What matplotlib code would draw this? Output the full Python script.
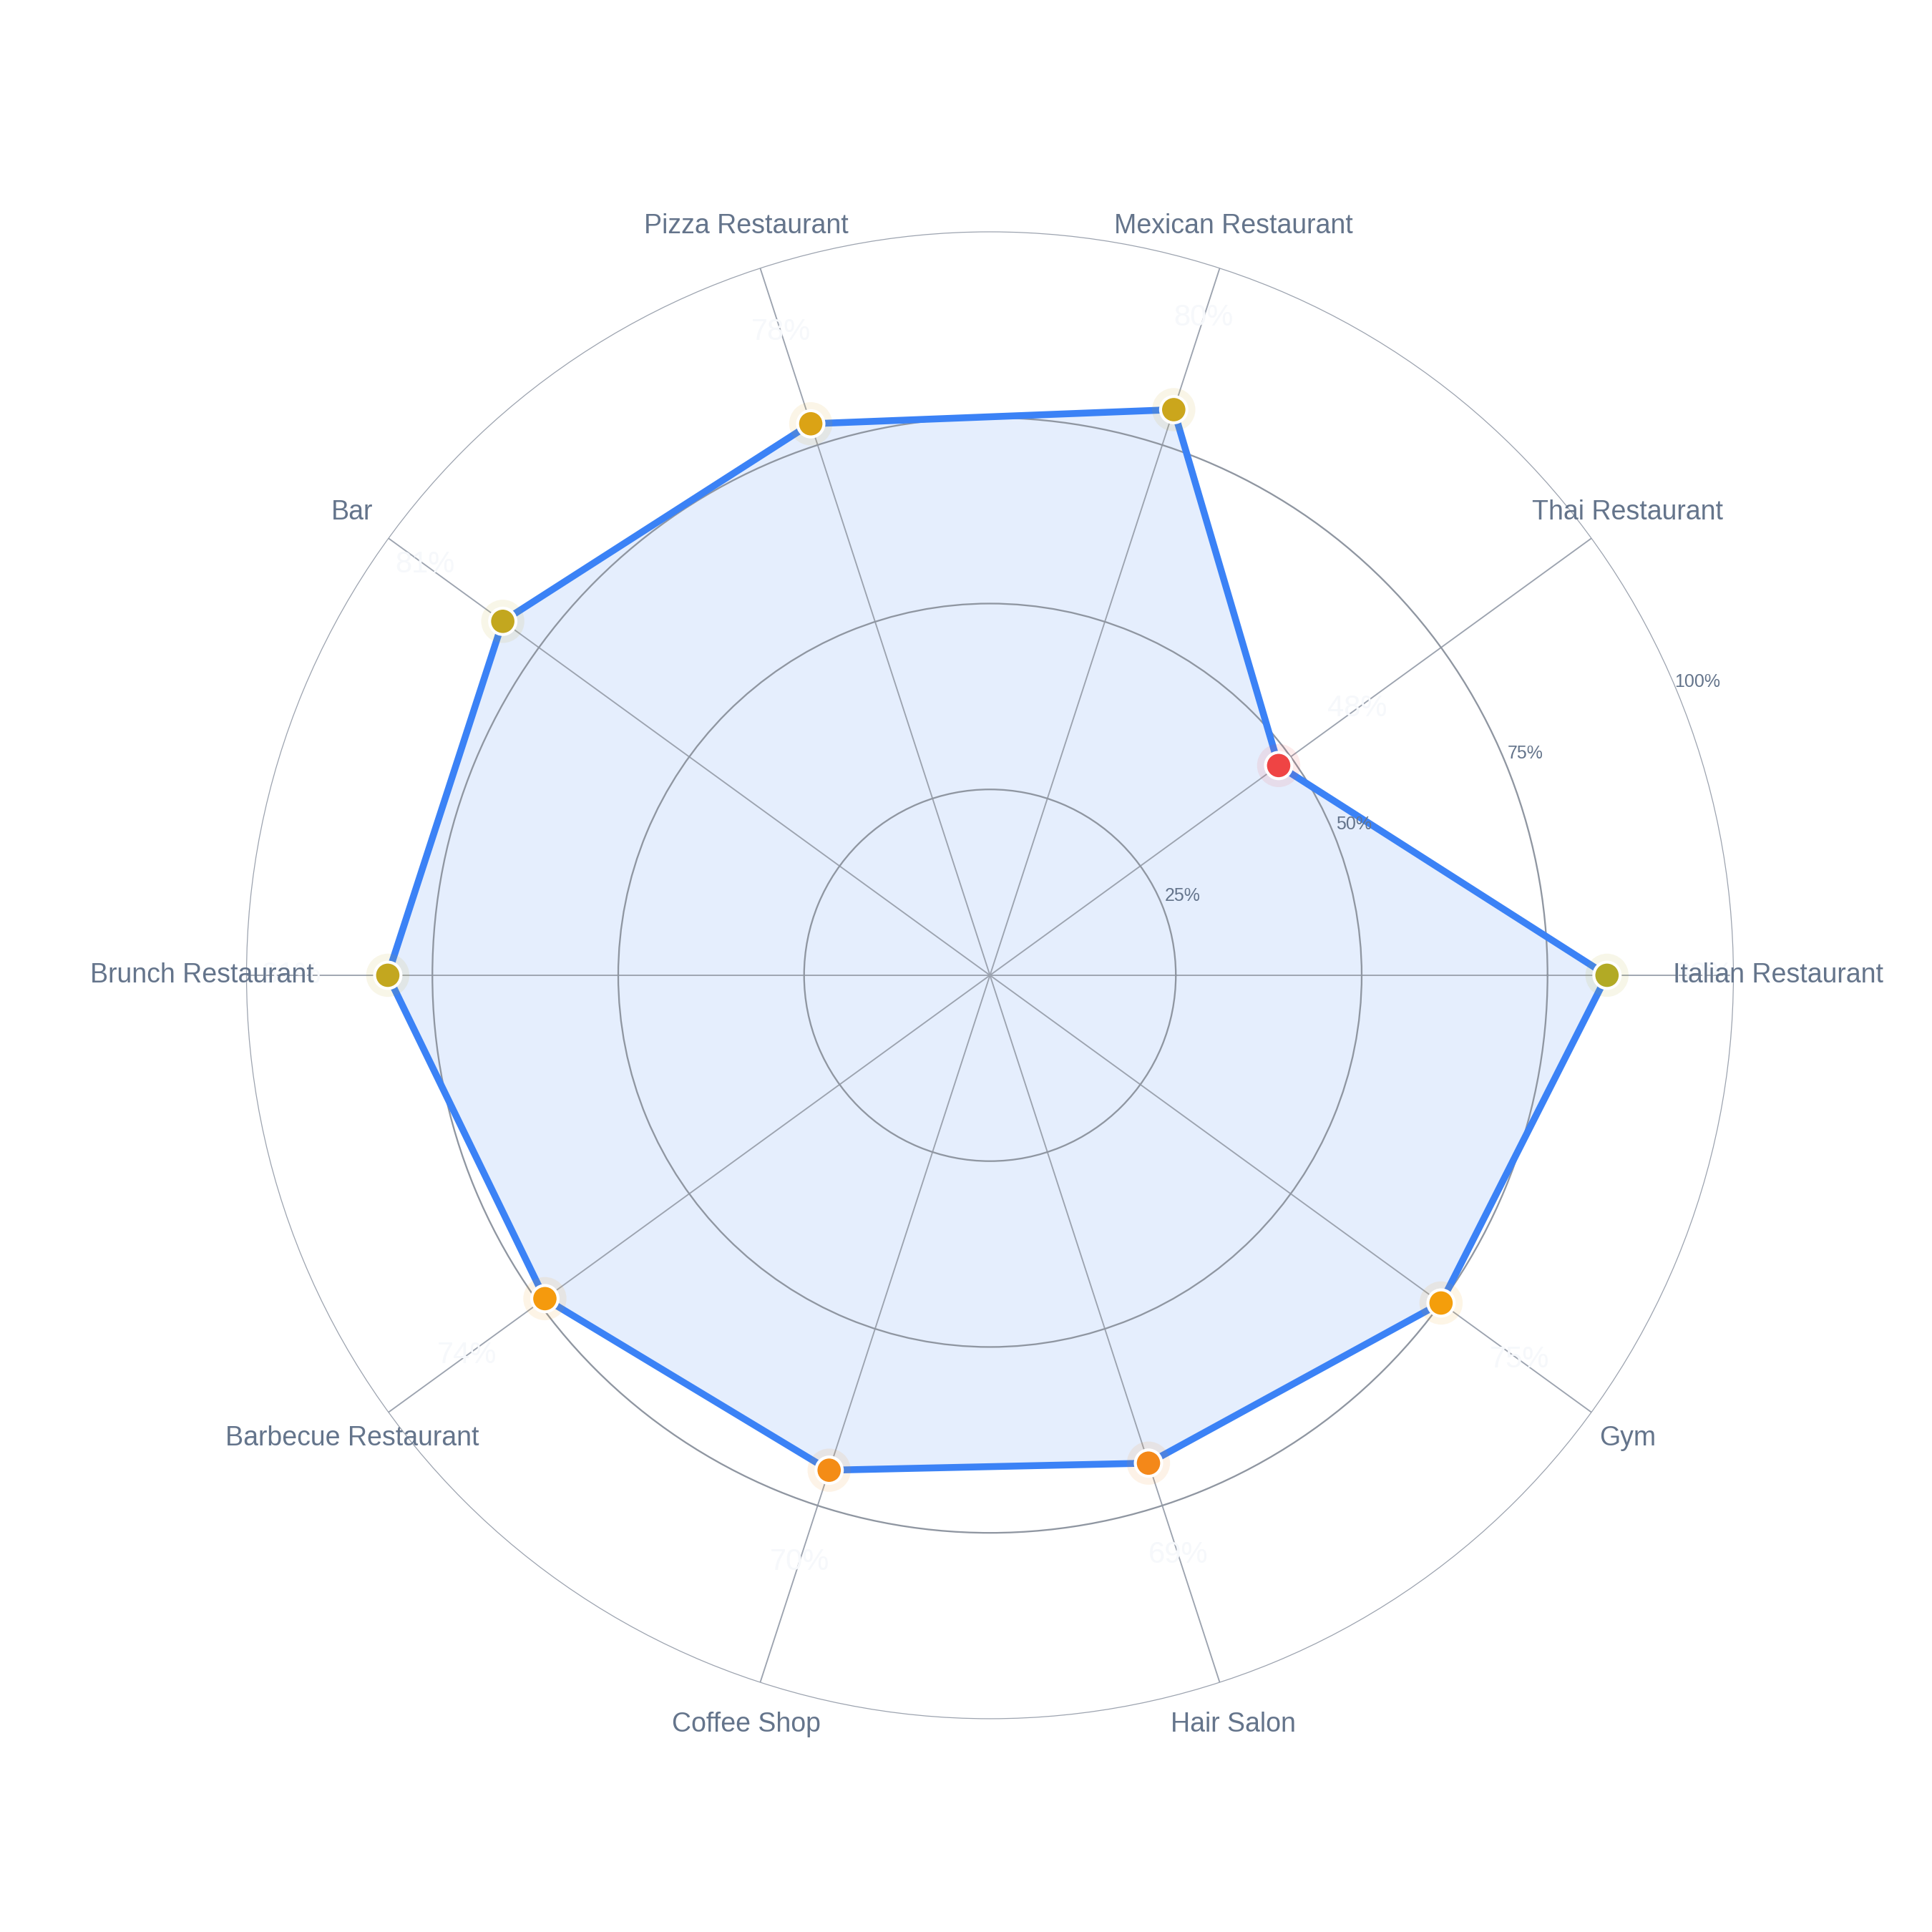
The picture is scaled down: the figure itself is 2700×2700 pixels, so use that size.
import numpy as np
import matplotlib
matplotlib.use('Agg')
import matplotlib.pyplot as plt
from matplotlib.colors import LinearSegmentedColormap, Normalize

plt.rcParams['font.family'] = ['Liberation Sans', 'DejaVu Sans']

# data
categories = ['Italian Restaurant', 'Thai Restaurant', 'Mexican Restaurant',
              'Pizza Restaurant', 'Bar', 'Brunch Restaurant',
              'Barbecue Restaurant', 'Coffee Shop', 'Hair Salon', 'Gym']
scores = [83, 48, 80, 78, 81, 81, 74, 70, 69, 75]
radial_ticks = [25, 50, 75, 100]
radial_labels = ['25%', '50%', '75%', '100%']

label_color = '#64748b'
grid_color = '#9ca3af'
line_color = '#3b82f6'

# red -> amber -> green scale for the markers
score_cmap = LinearSegmentedColormap.from_list('score', ['#ef4444', '#f59e0b', '#22c55e'])
score_norm = Normalize(vmin=50, vmax=100)

n = len(categories)
angles = np.linspace(0, 2 * np.pi, n, endpoint=False)
vals = np.array(scores, dtype=float)

fig = plt.figure(figsize=(9, 9), dpi=300, facecolor='white')
cx, cy, rad = 0.5124, 0.4952, 0.3848
ax = fig.add_axes([cx - rad, cy - rad, 2 * rad, 2 * rad], projection='polar')
ax.set_facecolor('white')
ax.set_ylim(0, 100)

# grid: circles at 25/50/75, spokes per category, outer ring as spine
ax.set_rgrids([25, 50, 75], labels=['', '', ''])
ax.set_thetagrids(np.degrees(angles), labels=[''] * n)
ax.yaxis.grid(True, color='#8f96a1', linewidth=0.55)
ax.xaxis.grid(True, color=grid_color, linewidth=0.45)
ax.spines['polar'].set_color(grid_color)
ax.spines['polar'].set_linewidth(0.3)
ax.tick_params(length=0)

# filled polygon + outline
closed_a = np.append(angles, angles[0])
closed_v = np.append(vals, vals[0])
ax.fill(closed_a, closed_v, color=line_color, alpha=0.13, linewidth=0, zorder=1)
ax.plot(closed_a, closed_v, color=line_color, linewidth=2.3, solid_joinstyle='round', zorder=3)

# markers with a soft halo
ax.scatter(angles, vals, c=vals, cmap=score_cmap, norm=score_norm, s=210,
           alpha=0.1, linewidths=0, zorder=4)
ax.scatter(angles, vals, c=vals, cmap=score_cmap, norm=score_norm, s=78,
           edgecolors='white', linewidths=1.0, zorder=5)

# faint value labels just beyond each point
for a, v in zip(angles, vals):
    ax.text(a, v + 13, '%d%%' % v, color='#f6f8fb', fontsize=10,
            ha='center', va='center', zorder=6)

# category labels outside the ring
for a, name in zip(angles, categories):
    ax.text(a, 106, name, color=label_color, fontsize=9,
            ha='center', va='center', clip_on=False, zorder=6)

# radial tick labels along 22.5 degrees
for r, lab in zip(radial_ticks, radial_labels):
    ax.text(np.radians(22.5), r + 3, lab, color=label_color, fontsize=6,
            ha='center', va='center', clip_on=False, zorder=6)

fig.savefig('out.png', dpi=300, facecolor='white')
